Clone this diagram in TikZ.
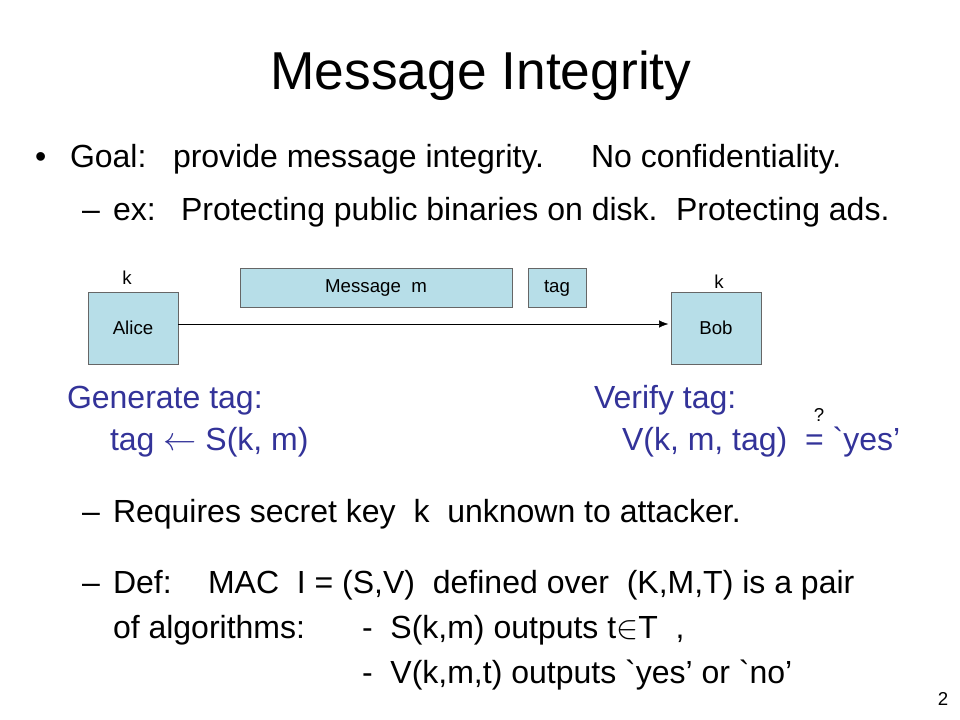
\documentclass[tikz,border=0pt]{standalone}
\usepackage{fontspec}
\setmainfont{Liberation Sans}
\usetikzlibrary{positioning, arrows.meta}
\definecolor{boxfill}{RGB}{183,222,232}
\definecolor{slideblue}{RGB}{51,51,153}

\begin{document}
\begin{tikzpicture}[
    x=0.75pt, y=-0.75pt, >={Latex[length=7pt, width=5.5pt]},
    every node/.style={inner sep=0pt, outer sep=0pt},
    title/.style={font=\fontsize{40}{48}\selectfont, anchor=base},
    body/.style={font=\fontsize{24}{29}\selectfont, anchor=base west},
    bluebody/.style={body, text=slideblue},
    small/.style={font=\fontsize{14}{17}\selectfont, anchor=base},
    party/.style={draw=black!60, fill=boxfill, minimum width=67.5pt, minimum height=54pt, font=\fontsize{14}{17}\selectfont},
    packet/.style={draw=black!60, fill=boxfill, minimum height=29.25pt, font=\fontsize{14}{17}\selectfont}
]
    \useasboundingbox (0,0) rectangle (960,720);

    \node[title] (title) at (481,90) {Message Integrity};

    % bullet lines
    \node[body] (dot) at (35,168) {•};
    \node[body] (goal) at (70,168) {Goal:};
    \node[body] (provide) at (173,168) {provide message integrity.};
    \node[body] (noconf) at (591,168) {No confidentiality.};
    \node[body] (dash1) at (82,221) {–};
    \node[body] (ex) at (113,221) {ex:};
    \node[body] (bin) at (181,221) {Protecting public binaries on disk.};
    \node[body] (ads) at (676,221) {Protecting ads.};

    % diagram
    \node[party] (Alice) at (133,328) {Alice};
    \node[party, right=369.75pt of Alice] (Bob) {Bob};
    \node[packet, minimum width=204pt] (msg) at (376,288) {Message~ m};
    \node[packet, minimum width=43.5pt] (tag) at (557,288) {tag};
    \node[small] (kA) at (127,285) {k};
    \node[small] (kB) at (719,288) {k};
    \draw[->] ([yshift=3pt]Alice.east) -- ([yshift=3pt, xshift=-2pt]Bob.west);

    \node[bluebody] (gen) at (67,408) {Generate tag:};
    \node[bluebody] (sign) at (110,450) {tag $\leftarrow$ S(k, m)};
    \node[bluebody] (ver) at (594,408) {Verify tag:};
    \node[bluebody] (vrfy) at (622,450) {V(k, m, tag)~ = \textasciigrave{}yes’};
    \node[small] (qm) at (819,421) {?};

    \node[body] (dash2) at (82,522) {–};
    \node[body] (req) at (113,522) {Requires secret key~ k~ unknown to attacker.};
    \node[body] (dash3) at (82,593) {–};
    \node[body] (def) at (113,593) {Def:};
    \node[body] (mac) at (208,593) {MAC~ I = (S,V)~ defined over~ (K,M,T) is a pair};
    \node[body] (ofalg) at (113,638) {of algorithms:};
    \node[body] (outS) at (362,638) {-~ S(k,m) outputs t$\in$T~ ,};
    \node[body] (outV) at (362,683) {-~ V(k,m,t) outputs \textasciigrave{}yes’ or \textasciigrave{}no’};

    \node[small] (page) at (943,705) {2};
\end{tikzpicture}
\end{document}
